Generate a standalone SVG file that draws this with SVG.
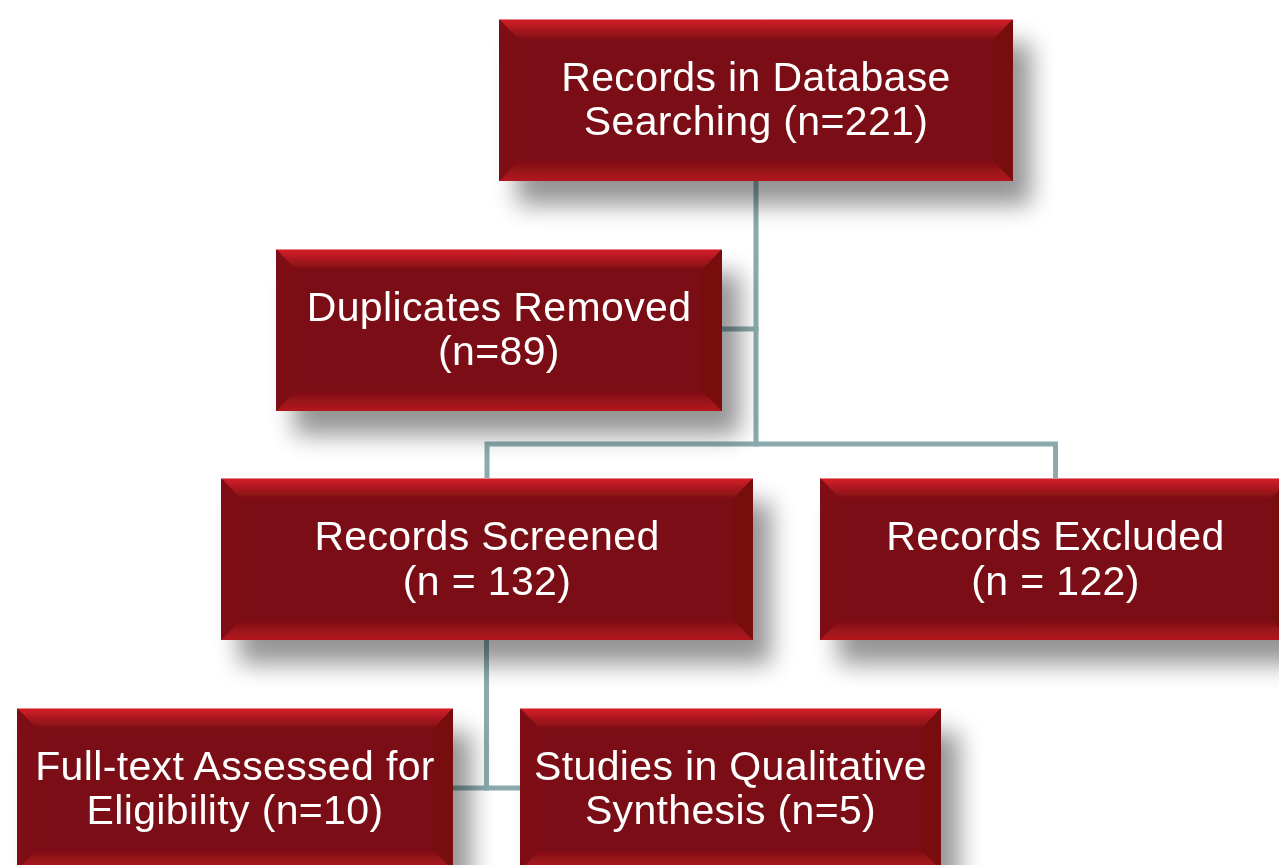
<svg xmlns="http://www.w3.org/2000/svg" width="1279" height="865" viewBox="0 0 1279 865">
<defs>
<filter id="sh" x="-20%" y="-30%" width="150%" height="180%">
<feGaussianBlur in="SourceAlpha" stdDeviation="12"/>
<feOffset dx="18" dy="24" result="b"/>
<feComponentTransfer><feFuncA type="linear" slope="0.42"/></feComponentTransfer>
<feMerge><feMergeNode/><feMergeNode in="SourceGraphic"/></feMerge>
</filter>
<linearGradient id="gTop" x1="0" y1="0" x2="0" y2="1">
<stop offset="0" stop-color="#d81f2a"/>
<stop offset="1" stop-color="#7c0f14"/>
</linearGradient>
<linearGradient id="gBot" x1="0" y1="0" x2="0" y2="1">
<stop offset="0" stop-color="#7c0f14"/>
<stop offset="1" stop-color="#b3161f"/>
</linearGradient>
</defs>
<style>
.base{fill:#7a0e12}
.bt{fill:url(#gTop)}
.bb{fill:url(#gBot)}
.bl{fill:#7e1015}
.br{fill:#770d11}
.edge{fill:none;stroke:#e4868a;stroke-width:1}
.lbl{font-family:"Liberation Sans",Arial,sans-serif;font-size:41px;letter-spacing:0.35px;fill:#ffffff;text-anchor:middle}
.con{fill:none;stroke:#8aaaad;stroke-width:5;stroke-linecap:square;stroke-linejoin:miter}
</style>
<rect width="1279" height="865" fill="#ffffff"/>
<g id="connectors">
<path class="con" d="M756 181 V444"/>
<path class="con" d="M722 329 H756"/>
<path class="con" d="M487 478 V444 H1055.5 V478"/>
<path class="con" d="M486.5 640 V788"/>
<path class="con" d="M453 788 H520"/>
</g>
<g id="node-records-database" filter="url(#sh)">
<rect class="base" x="499" y="19" width="514" height="162"/>
<polygon class="bt" points="499,19 1013,19 993,40 519,40"/>
<polygon class="bb" points="499,181 1013,181 993,160 519,160"/>
<polygon class="bl" points="499,19 519,40 519,160 499,181"/>
<polygon class="br" points="1013,19 993,40 993,160 1013,181"/>
<line class="edge" x1="499" y1="19.5" x2="1013" y2="19.5"/>
<text class="lbl" x="756" y="91">Records in Database</text>
<text class="lbl" x="756" y="135">Searching (n=221)</text>
</g>
<g id="node-duplicates" filter="url(#sh)">
<rect class="base" x="276" y="249" width="446" height="162"/>
<polygon class="bt" points="276,249 722,249 702,270 296,270"/>
<polygon class="bb" points="276,411 722,411 702,390 296,390"/>
<polygon class="bl" points="276,249 296,270 296,390 276,411"/>
<polygon class="br" points="722,249 702,270 702,390 722,411"/>
<line class="edge" x1="276" y1="249.5" x2="722" y2="249.5"/>
<text class="lbl" x="499" y="321">Duplicates Removed</text>
<text class="lbl" x="499" y="365">(n=89)</text>
</g>
<g id="node-screened" filter="url(#sh)">
<rect class="base" x="221" y="478" width="532" height="162"/>
<polygon class="bt" points="221,478 753,478 733,499 241,499"/>
<polygon class="bb" points="221,640 753,640 733,619 241,619"/>
<polygon class="bl" points="221,478 241,499 241,619 221,640"/>
<polygon class="br" points="753,478 733,499 733,619 753,640"/>
<line class="edge" x1="221" y1="478.5" x2="753" y2="478.5"/>
<text class="lbl" x="487" y="550">Records Screened</text>
<text class="lbl" x="487" y="595">(n = 132)</text>
</g>
<g id="node-excluded" filter="url(#sh)">
<rect class="base" x="820" y="478" width="471" height="162"/>
<polygon class="bt" points="820,478 1291,478 1271,499 840,499"/>
<polygon class="bb" points="820,640 1291,640 1271,619 840,619"/>
<polygon class="bl" points="820,478 840,499 840,619 820,640"/>
<polygon class="br" points="1291,478 1271,499 1271,619 1291,640"/>
<line class="edge" x1="820" y1="478.5" x2="1291" y2="478.5"/>
<text class="lbl" x="1055.5" y="550">Records Excluded</text>
<text class="lbl" x="1055.5" y="595">(n = 122)</text>
</g>
<g id="node-fulltext" filter="url(#sh)">
<rect class="base" x="17" y="708" width="436" height="162"/>
<polygon class="bt" points="17,708 453,708 433,729 37,729"/>
<polygon class="bb" points="17,870 453,870 433,849 37,849"/>
<polygon class="bl" points="17,708 37,729 37,849 17,870"/>
<polygon class="br" points="453,708 433,729 433,849 453,870"/>
<line class="edge" x1="17" y1="708.5" x2="453" y2="708.5"/>
<text class="lbl" x="235" y="780">Full-text Assessed for</text>
<text class="lbl" x="235" y="824">Eligibility (n=10)</text>
</g>
<g id="node-studies" filter="url(#sh)">
<rect class="base" x="520" y="708" width="421" height="162"/>
<polygon class="bt" points="520,708 941,708 921,729 540,729"/>
<polygon class="bb" points="520,870 941,870 921,849 540,849"/>
<polygon class="bl" points="520,708 540,729 540,849 520,870"/>
<polygon class="br" points="941,708 921,729 921,849 941,870"/>
<line class="edge" x1="520" y1="708.5" x2="941" y2="708.5"/>
<text class="lbl" x="730.5" y="780">Studies in Qualitative</text>
<text class="lbl" x="730.5" y="824">Synthesis (n=5)</text>
</g>
</svg>
